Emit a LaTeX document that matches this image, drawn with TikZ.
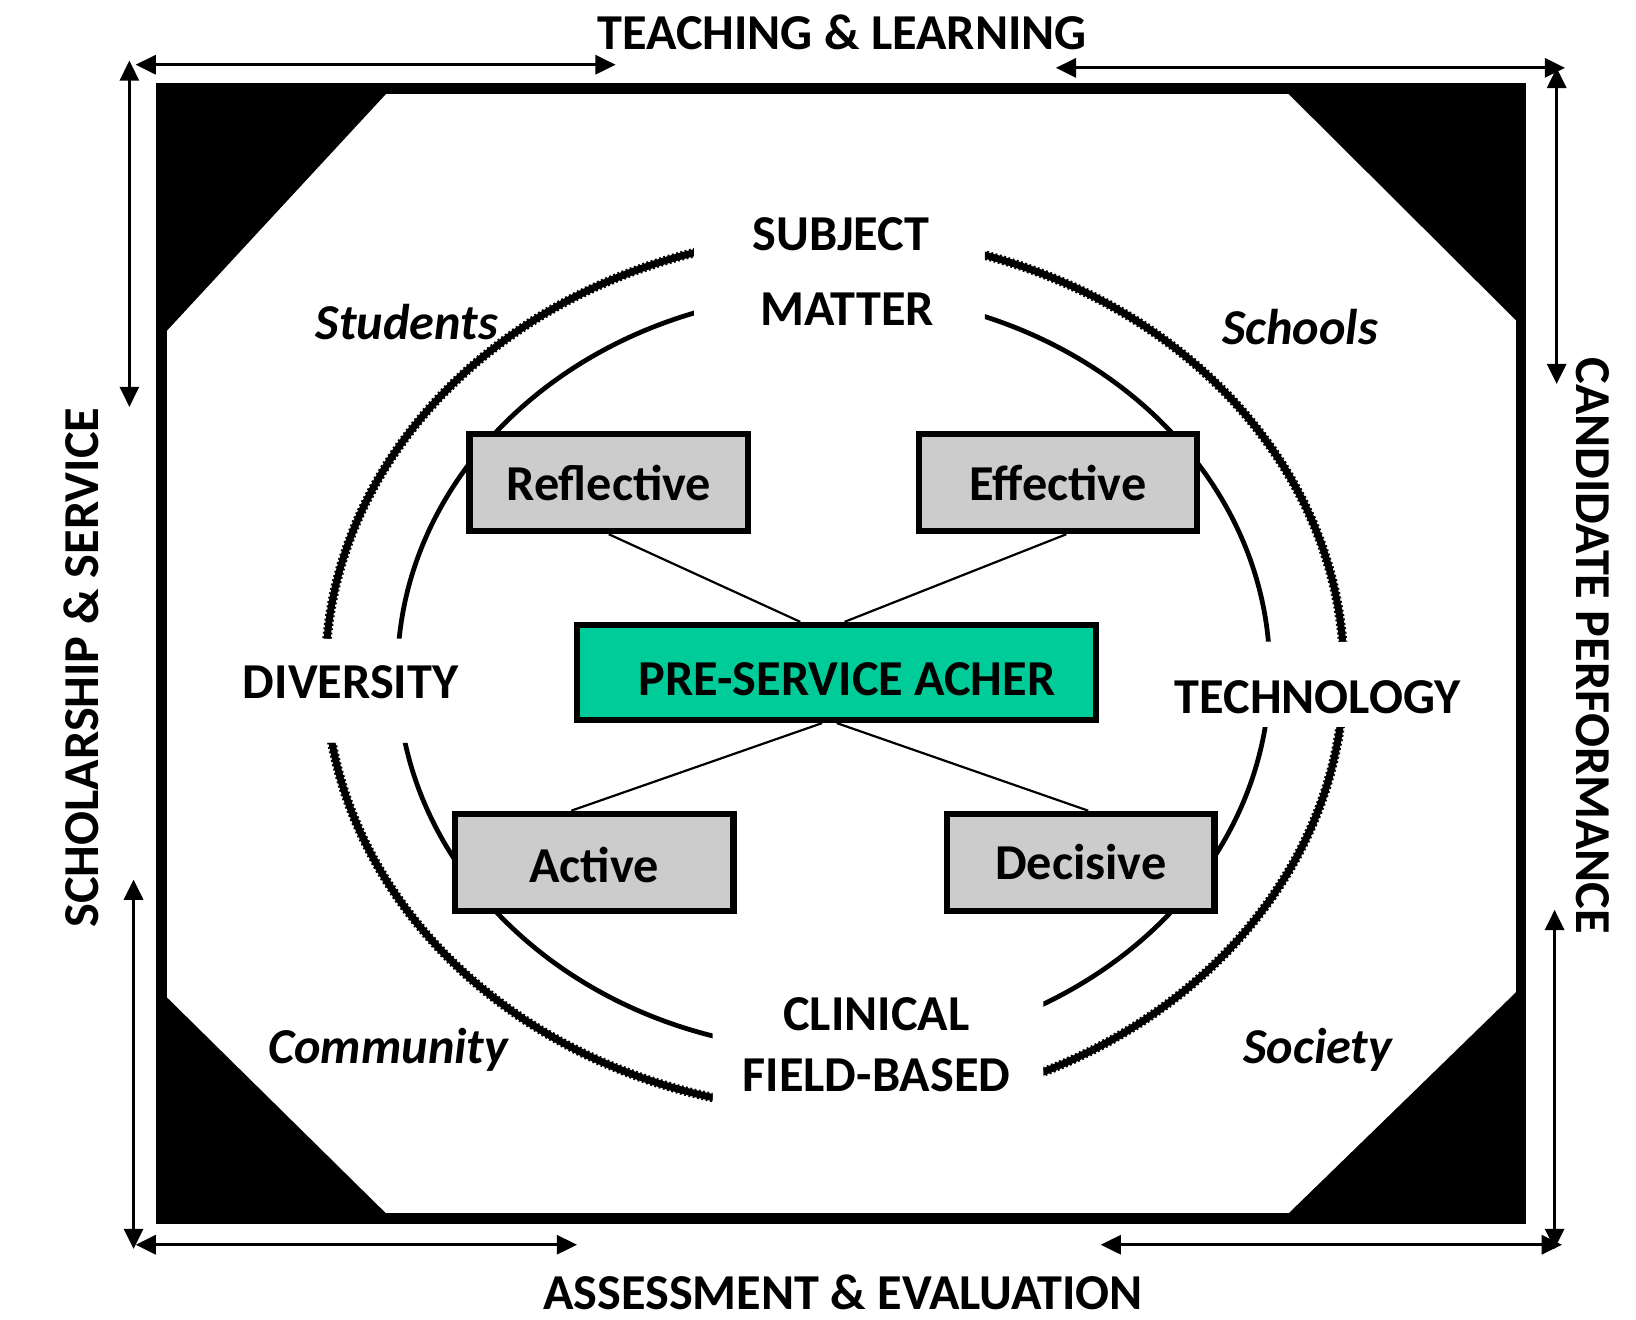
\documentclass[tikz,border=0pt]{standalone}
\usepackage{fontspec}
\setmainfont{Carlito}
\usetikzlibrary{arrows.meta,calc}
\definecolor{boxgray}{HTML}{CCCCCC}
\definecolor{preteal}{HTML}{00CC99}
\begin{document}
\begin{tikzpicture}[x=0.01cm,y=-0.01cm,
  lbl/.style={font=\fontsize{13.7}{16}\selectfont\bfseries, inner sep=0pt},
  ital/.style={font=\fontsize{13.7}{16}\selectfont\bfseries\itshape, inner sep=0pt},
  box/.style={draw=black, line width=1.7pt, fill=boxgray, minimum height=0.93cm, inner sep=0pt,
    font=\fontsize{13.7}{16}\selectfont\bfseries},
  link/.style={line width=0.6pt},
  dbl/.style={line width=0.8pt, {Triangle[length=5.5pt,width=5.2pt]}-{Triangle[length=5.5pt,width=5.2pt]}},
  frame/.style={line width=2.85pt},
  innerarc/.style={line width=1.3pt},
  outerarc/.style={line width=1.9pt},
  outerbead/.style={line width=2.6pt, dash pattern=on 0.5pt off 0.7pt},
]
\useasboundingbox (0,0) rectangle (1568,1265);

% frame and corners
\draw[frame] (155,85) rectangle (1458,1168);
\fill (155,85) -- (370,85) -- (370,90) -- (159,318) -- (155,318) -- cycle;
\fill (1458,85) -- (1235,85) -- (1235,90) -- (1454,308) -- (1458,308) -- cycle;
\fill (155,1168) -- (370,1168) -- (370,1163) -- (159,955) -- (155,955) -- cycle;
\fill (1458,1168) -- (1235,1168) -- (1235,1163) -- (1454,950) -- (1458,950) -- cycle;

% arcs
\begin{scope}[even odd rule]
\clip (0,0) rectangle (1568,1265)
  (665,200) rectangle (944,330)
  (683,925) rectangle (1000,1085)
  (280,612) rectangle (410,712)
  (1190,615) rectangle (1310,697);
\draw[outerarc] (800,645) ellipse [x radius=488, y radius=419];
\draw[outerbead] (800,645) ellipse [x radius=488, y radius=419];
\draw[innerarc] (799,644) ellipse [x radius=418, y radius=363];
\end{scope}

% boxes
\node[box, minimum width=2.67cm] (refl) at (583.5,462.5) {Reflective};
\node[box, minimum width=2.66cm] (eff) at (1014,462.5) {Effective};
\node[box, minimum width=2.67cm] (act) at (569.5,826.5) {\raisebox{-0.03cm}[\height][\depth]{Active}};
\node[box, minimum width=2.56cm] (dec) at (1036,826.5) {Decisive};
\node[box, fill=preteal, minimum width=4.97cm, minimum height=0.91cm] (pre) at (801.5,644.5) {\raisebox{-0.06cm}[\height][\depth]{\hspace*{0.21cm}PRE-SERVICE ACHER}};

% connectors
\draw[link] (refl.south) -- ($(pre.north)+(-34.5,0)$);
\draw[link] ($(eff.south)+(8,0)$) -- ($(pre.north)+(8,0)$);
\draw[link] ($(pre.south)+(-13.5,0)$) -- ($(act.north)+(-22,0)$);
\draw[link] ($(pre.south)+(0.5,0)$) -- ($(dec.north)+(7,0)$);

% ring labels
\node[lbl, anchor=base] (subj) at (806,240.5) {SUBJECT};
\node[lbl, anchor=base] (matter) at (812,311.5) {MATTER};
\node[lbl, anchor=base] (div) at (336,669.5) {DIVERSITY};
\node[lbl, anchor=base] (tech) at (1263,683.5) {TECHNOLOGY};
\node[lbl, anchor=base] (clin) at (840,987.5) {CLINICAL};
\node[lbl, anchor=base] (field) at (840,1046.5) {FIELD-BASED};
\node[ital, anchor=base] (stud) at (390,325) {Students};
\node[ital, anchor=base] (schools) at (1246,330) {Schools};
\node[ital, anchor=base] (comm) at (372,1019) {Community};
\node[ital, anchor=base] (soc) at (1263,1019) {Society};

% outer labels
\node[lbl, anchor=base] (teach) at (807,47.5) {TEACHING \& LEARNING};
\node[lbl, anchor=base] (assess) at (808,1255.5) {ASSESSMENT \& EVALUATION};
\node[lbl, rotate=90] (schol) at (78,640) {SCHOLARSHIP \& SERVICE};
\node[lbl, rotate=-90] (cand) at (1527,619) {CANDIDATE PERFORMANCE};

% arrows
\coordinate (tl1) at (130,62);  \coordinate (tl2) at (590,62);
\coordinate (tr1) at (1012,65); \coordinate (tr2) at (1500,65);
\coordinate (lu1) at (124,58);  \coordinate (lu2) at (124,390);
\coordinate (ll1) at (128,843); \coordinate (ll2) at (128,1197);
\coordinate (bl1) at (130,1193); \coordinate (bl2) at (553,1193);
\coordinate (br1) at (1055,1193); \coordinate (br2) at (1497,1193);
\coordinate (ru1) at (1492,65); \coordinate (ru2) at (1492,368);
\coordinate (rl1) at (1490,872); \coordinate (rl2) at (1490,1197);
\draw[dbl] (tl1) -- (tl2);
\draw[dbl] (tr1) -- (tr2);
\draw[dbl] (lu1) -- (lu2);
\draw[dbl] (ll1) -- (ll2);
\draw[dbl] (bl1) -- (bl2);
\draw[dbl] (br1) -- (br2);
\draw[dbl] (ru1) -- (ru2);
\draw[dbl] (rl1) -- (rl2);
\end{tikzpicture}
\end{document}
